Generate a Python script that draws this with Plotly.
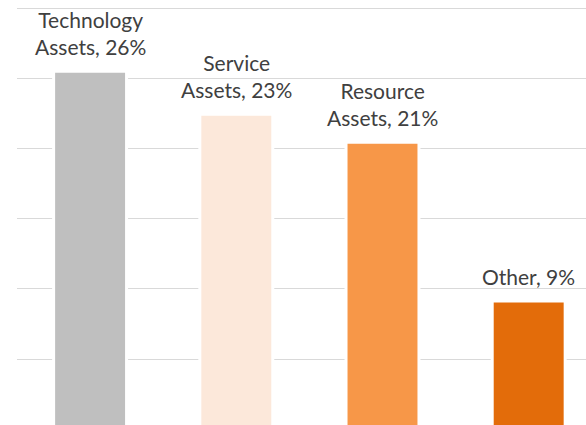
import plotly.graph_objects as go

categories = ["Technology Assets", "Service Assets", "Resource Assets", "Other"]
values = [25.5, 22.45, 20.45, 9.15]
label_pct = [26, 23, 21, 9]
colors = ["#bfbfbf", "#fce8da", "#f79748", "#e36c0a"]

x_idx = list(range(len(categories)))
fig = go.Figure()
fig.add_trace(go.Bar(
    x=x_idx, y=values, width=0.499,
    marker=dict(color=colors, line=dict(color="white", width=3)),
    hoverinfo="skip",
))

for i, (cat, v, p) in enumerate(zip(categories, values, label_pct)):
    fig.add_annotation(
        x=i, y=v, xref="x", yref="y",
        text=cat.replace(" ", "<br>") + f", {p}%",
        showarrow=False, yanchor="bottom", yshift=10,
        font=dict(family="Lato", size=21, color="#404040"),
    )

fig.update_layout(
    width=586, height=425,
    margin=dict(l=17, r=0, t=0, b=0),
    plot_bgcolor="white", paper_bgcolor="white",
    showlegend=False,
    xaxis=dict(range=[-0.5, 3.392], showticklabels=False, showgrid=False,
               zeroline=False, showline=False, ticks=""),
    yaxis=dict(range=[0.31, 30.58], tick0=0, dtick=5, showticklabels=False,
               showgrid=True, gridcolor="#d9d9d9", gridwidth=1.3,
               zeroline=False, showline=False, ticks=""),
)
fig.write_html(
    "out.html",
    config={"displayModeBar": False},
    post_script="document.body.style.margin='0';document.body.style.overflow='hidden';",
)
